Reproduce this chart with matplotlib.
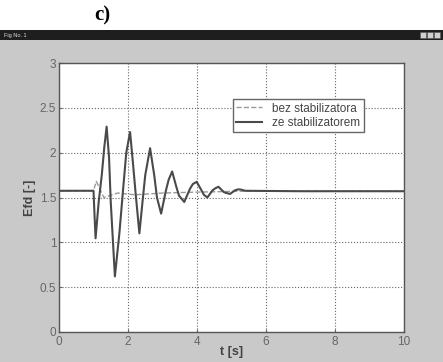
import matplotlib.pyplot as plt
from matplotlib.patches import Rectangle

t_ze = [0, 1.0, 1.03, 1.06, 1.15, 1.24, 1.31, 1.38, 1.45, 1.5, 1.62, 1.75, 1.86, 1.95, 2.06,
        2.14, 2.22, 2.33, 2.42, 2.5, 2.64, 2.76, 2.84, 2.96, 3.1, 3.18, 3.28, 3.4, 3.48,
        3.63, 3.8, 3.88, 3.99, 4.13, 4.2, 4.3, 4.45, 4.52, 4.62, 4.78, 4.85, 4.96, 5.1,
        5.18, 5.25, 5.4, 7.0, 10.0]
v_ze = [1.575, 1.575, 1.3, 1.045, 1.45, 1.75, 2.05, 2.29, 1.95, 1.45, 0.62, 1.1, 1.6, 2.0, 2.23,
        1.9, 1.55, 1.1, 1.45, 1.75, 2.05, 1.75, 1.5, 1.32, 1.58, 1.7, 1.79, 1.62, 1.52,
        1.45, 1.6, 1.65, 1.675, 1.58, 1.53, 1.50, 1.58, 1.6, 1.62, 1.56, 1.55, 1.54, 1.58,
        1.59, 1.59, 1.575, 1.57, 1.57]
t_bez = [0, 1.0, 1.08, 1.3, 1.7, 2.2, 3.0, 4.0, 5.3, 10.0]
v_bez = [1.575, 1.575, 1.68, 1.5, 1.55, 1.53, 1.55, 1.56, 1.57, 1.57]

x_ticks = [0, 2, 4, 6, 8, 10]
y_ticks = [0, 0.5, 1, 1.5, 2, 2.5, 3]
y_labels = ["0", "0.5", "1", "1.5", "2", "2.5", "3"]

plt.rcParams['font.family'] = ['Liberation Sans', 'DejaVu Sans']

fig = plt.figure(figsize=(4.43, 3.62), dpi=100)
fig.patch.set_facecolor("white")

# szare tlo okna i pasek tytulu
fig.add_artist(Rectangle((0, 0), 1, 1 - 40 / 362, transform=fig.transFigure,
                         facecolor="#c9c9c9", edgecolor="none", zorder=-2))
fig.add_artist(Rectangle((0, 1 - 40 / 362), 1, 10 / 362, transform=fig.transFigure,
                         facecolor="#1e1e1e", edgecolor="none", zorder=-1))
fig.text(0.01, 1 - 35 / 362, "Fig No. 1", color="#dddddd", fontsize=4, va="center")
for i in range(3):
    fig.add_artist(Rectangle(((420 + i * 7) / 443, 1 - 38 / 362), 6 / 443, 6 / 362,
                             transform=fig.transFigure, facecolor="#d0d0d0",
                             edgecolor="#555555", lw=0.4))
fig.text(0.213, 1 - 15 / 362, "c)", fontsize=15, fontweight="bold",
         family=["Liberation Serif", "DejaVu Serif"], va="center")

ax = fig.add_axes([59 / 443, 1 - 332 / 362, 345 / 443, 269 / 362])
ax.set_facecolor("white")
ax.plot(t_bez, v_bez, "--", color="#9a9a9a", lw=1.0, label="bez stabilizatora")
ax.plot(t_ze, v_ze, "-", color="#4a4a4a", lw=1.5, label="ze stabilizatorem")

ax.set_xlim(0, 10)
ax.set_ylim(0, 3)
ax.set_xticks(x_ticks)
ax.set_yticks(y_ticks)
ax.set_yticklabels(y_labels)
ax.grid(True, ls=":", color="#666666", lw=0.8)
ax.tick_params(labelsize=8.5, colors="#666666", length=2, direction="in")
ax.tick_params(axis="y", pad=2)
ax.tick_params(axis="x", pad=3)
for s in ax.spines.values():
    s.set_color("#555555")
    s.set_linewidth(1.0)

ax.set_xlabel("t [s]", fontsize=9, fontweight="bold", color="#444444", labelpad=-1.5)
ax.set_ylabel("Efd [-]", fontsize=9, fontweight="bold", color="#444444", labelpad=3)

leg = ax.legend(loc="upper left", bbox_to_anchor=(0.487, 0.888), fontsize=8.5,
                fancybox=False, framealpha=1, edgecolor="#666666",
                handlelength=2.2, borderpad=0.3, labelspacing=0.2)
for txt in leg.get_texts():
    txt.set_color("#444444")

plt.savefig("out.png", dpi=100)
